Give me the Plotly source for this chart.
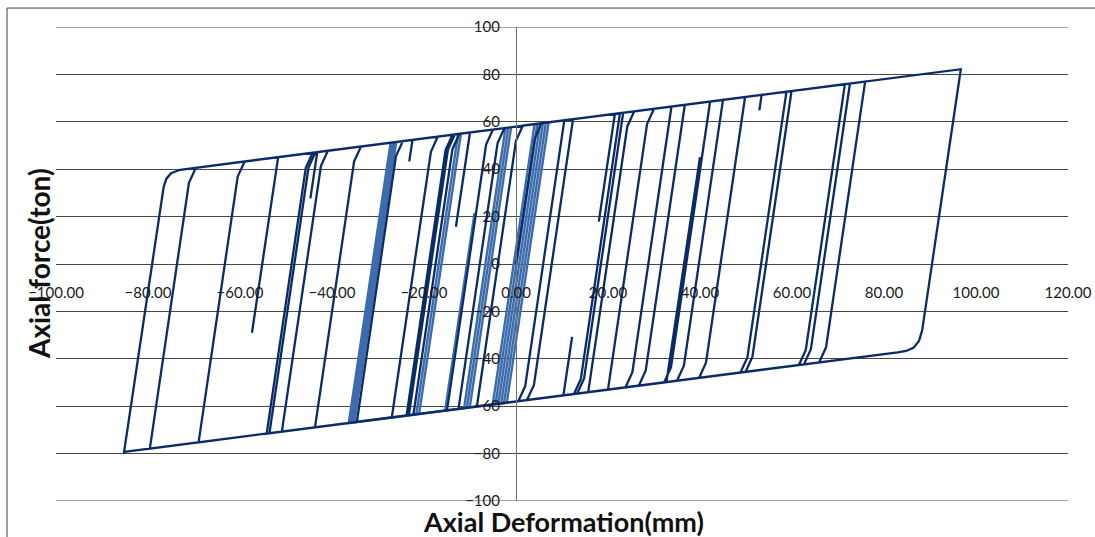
import plotly.graph_objects as go

# ---- data (axial deformation in mm, axial force in ton) ----
# main hysteresis path (dark series)
defo_main = [
    0, 4.1, 5.5,
    10.5, 2.0, 0.5, -8.5, 0.0, 1.5,
    12.4, 3.9, 2.4, -12.5, -4.0, -2.5,
    22.6, 14.1, 12.6, 10.3, 12.2, 10.3, -15.0, -6.5, -5.0,
    21.5, 18.0, 21.5,
    23.3, 14.8, 13.3, -22.3, -13.8, -12.3,
    -10.0, -13.06, -10.0,
    33.8, 25.3, 23.8, 20.0, 28.5, 30.0,
    36.7, 28.2, 26.7, -23.3, -14.8, -13.3,
    42.2, 33.7, 32.2, 15.7, 24.2, 25.7,
    45.0, 36.5, 35.0, 32.7, 40.0, 32.7, -23.8, -15.3, -13.8,
    49.8, 41.3, 39.8, -27.0, -18.5, -17.0,
    58.8, 50.3, 48.8, -34.6, -26.1, -24.6,
    -22.5, -23.2, -22.5, 53.4, 52.9, 53.4,
    59.9, 51.4, 49.9, -43.7, -35.2, -33.7,
    71.5, 63.0, 61.5, -50.9, -42.4, -40.9,
    72.6, 64.1, 62.6, -53.6, -45.1, -43.6,
    -43.2, -44.7, -43.2,
    75.9, 67.4, 65.9, -54.2, -45.7, -44.2,
    96.7, 88.9, 88.3, 87.6, 86.4, 84.8, 83.0,
    -85.2, -77.0, -76.6, -76.0, -75.0, -73.0,
    75.9, 67.4, 65.9, -79.6, -71.1, -69.6,
    72.6, 64.1, 62.6, -69.0, -60.5, -59.0,
    -51.7, -57.4, -51.7,
    71.5, 63.0, 61.5, 0.0,
]
force_main = [
    0, 53.0, 59.4,
    60.63, -51.5, -57.88, -60.13, 52.0, 58.38,
    61.1, -51.03, -57.4, -61.13, 51.0, 57.38,
    63.65, -48.48, -54.85, -55.43, -30.73, -55.43, -61.75, 50.38, 56.75,
    63.38, 17.88, 63.38,
    63.83, -48.3, -54.68, -63.58, 48.55, 54.93,
    55.5, 15.7, 55.5,
    66.45, -45.68, -52.05, -53.0, 59.13, 65.5,
    67.18, -44.95, -51.33, -63.83, 48.3, 54.68,
    68.55, -43.58, -49.95, -54.08, 58.05, 64.43,
    69.25, -42.88, -49.25, -49.83, 45.07, -49.83, -63.95, 48.18, 54.55,
    70.45, -41.68, -48.05, -64.75, 47.38, 53.75,
    72.7, -39.43, -45.8, -66.65, 45.48, 51.85,
    52.38, 43.28, 52.38, 71.35, 64.85, 71.35,
    72.98, -39.15, -45.53, -68.93, 43.2, 49.58,
    75.88, -36.25, -42.63, -70.73, 41.4, 47.78,
    76.15, -35.98, -42.35, -71.4, 40.73, 47.1,
    47.2, 27.7, 47.2,
    76.98, -35.15, -41.53, -71.55, 40.58, 46.95,
    82.18, -20.0, -28.0, -32.5, -35.4, -36.7, -37.25,
    -79.3, 27.3, 32.5, 36.0, 38.3, 39.75,
    76.98, -35.15, -41.53, -77.9, 34.23, 40.6,
    76.15, -35.98, -42.35, -75.25, 36.88, 43.25,
    45.08, -29.02, 45.08,
    75.88, -36.25, -42.63, -58.0,
]

# repeated elastic cycles (lighter series)
defo_elastic = [
    -2.0, 7.1, -2.0, -2.61, 6.49, -2.61, -3.22, 5.87, -3.22,
    -3.84, 5.26, -3.84, -4.45, 4.65, -4.45, -5.06, 4.04, -5.06,
    -10.05, -1.06, -10.05, -10.67, -1.67, -10.67, -11.28, -2.28, -11.28,
    -15.41, -9.0, -15.41,
    -21.07, -11.97, -21.07, -21.68, -12.58, -21.68,
    -35.14, -26.04, -35.14, -35.54, -26.45, -35.54,
    -35.95, -26.86, -35.95, -36.36, -27.26,
]
force_elastic = [
    -58.5, 59.78, -58.5, -58.65, 59.62, -58.65, -58.81, 59.47, -58.81,
    -58.96, 59.32, -58.96, -59.11, 59.16, -59.11, -59.27, 59.01, -59.27,
    -60.51, 57.74, -60.51, -60.67, 57.58, -60.67, -60.82, 57.43, -60.82,
    -61.85, 21.5, -61.85,
    -63.27, 55.01, -63.27, -63.42, 54.86, -63.42,
    -66.79, 51.49, -66.79, -66.89, 51.39, -66.89,
    -66.99, 51.29, -66.99, -67.09, 51.19,
]

x_ticks = [-100, -80, -60, -40, -20, 0, 20, 40, 60, 80, 100, 120]
y_ticks = [-100, -80, -60, -40, -20, 0, 20, 40, 60, 80, 100]

x_title = "Axial Deformation(mm)"
y_title = "Axial force(ton)"

DARK = "#0b2b66"
LIGHT = "#3d6cad"
GRID = "#474747"
FONT = "Lato, 'Open Sans', sans-serif"
tick_font = dict(family=FONT, size=15, color="#1a1a1a")

fig = go.Figure()
fig.add_trace(go.Scatter(x=defo_elastic, y=force_elastic, mode="lines",
                         line=dict(color=LIGHT, width=2.4), hoverinfo="skip"))
fig.add_trace(go.Scatter(x=defo_main, y=force_main, mode="lines",
                         line=dict(color=DARK, width=2.3), hoverinfo="skip"))

fig.update_layout(
    width=1095, height=537,
    margin=dict(l=56, r=27, t=27, b=36, autoexpand=False),
    paper_bgcolor="white", plot_bgcolor="white",
    showlegend=False,
    xaxis=dict(range=[-100, 120], tickvals=x_ticks, tickformat=".2f",
               showgrid=False, zeroline=False, showline=False, ticks="",
               anchor="free", position=0.462, automargin=False,
               tickfont=tick_font),
    yaxis=dict(range=[-100, 100], tickvals=y_ticks, showgrid=True,
               gridcolor=GRID, gridwidth=1, zeroline=False,
               showline=True, linecolor="#707070", linewidth=1, ticks="",
               anchor="free", position=0.4545, ticklabelstandoff=13,
               automargin=False, tickfont=tick_font),
    shapes=[
        dict(type="rect", xref="paper", yref="paper",
             x0=-0.0484, y0=-0.093, x1=1.04, y1=1.04,
             line=dict(color="#404040", width=1), layer="below"),
        # gridlines on the range edges (Plotly omits them)
        dict(type="line", xref="paper", yref="y", x0=0, x1=1, y0=-100, y1=-100,
             line=dict(color=GRID, width=1), layer="below"),
        dict(type="line", xref="paper", yref="y", x0=0, x1=1, y0=100, y1=100,
             line=dict(color=GRID, width=1), layer="below"),
    ],
    annotations=[
        dict(text="<b>" + x_title + "</b>", xref="paper", yref="paper",
             x=0.501, y=-0.043, xanchor="center", yanchor="middle",
             showarrow=False, font=dict(family=FONT, size=27, color="#111")),
        dict(text="<b>" + y_title + "</b>", xref="paper", yref="paper",
             x=-0.0168, y=0.502, xanchor="center", yanchor="middle",
             textangle=-90, showarrow=False,
             font=dict(family=FONT, size=28, color="#111")),
    ],
)

fig.write_html("out.html", config={"displayModeBar": False},
               post_script="document.body.style.margin='0px';")
